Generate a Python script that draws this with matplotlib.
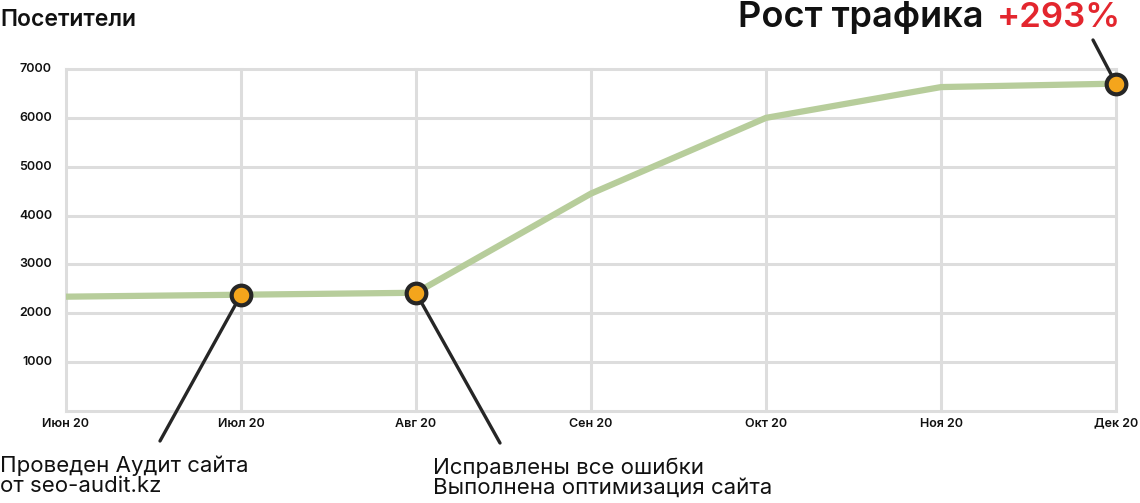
import numpy as np
import matplotlib.pyplot as plt

months = ["Июн 20", "Июл 20", "Авг 20", "Сен 20", "Окт 20", "Ноя 20", "Дек 20"]
visitors = [2340, 2380, 2420, 4450, 6000, 6630, 6700]
marked = [1, 2, 6]
yticks = [1000, 2000, 3000, 4000, 5000, 6000, 7000]

plt.rcParams['font.family'] = ['Inter', 'DejaVu Sans']

W, H = 1140, 503
fig = plt.figure(figsize=(W / 100, H / 100), dpi=100)
ax = fig.add_axes([66 / W, 92 / H, 1050 / W, 342 / H])

x = np.arange(len(months))
ax.set_xlim(0, len(months) - 1)
ax.set_ylim(0, 7000)

# grid
for v in [0] + yticks:
    ax.axhline(v, color="#dddddd", lw=2.2, zorder=1, clip_on=False)
for xi in x:
    ax.axvline(xi, color="#dddddd", lw=2.2, zorder=1, clip_on=False)

ax.plot(x, visitors, color="#b7cd9b", lw=4.5, zorder=2, solid_capstyle="butt", clip_on=False)

# leader lines from the marked points to the captions
leaders = [(1, (160, 441)), (2, (500, 443)), (6, (1093, 40))]
for i, (px, py) in leaders:
    ax.annotate("", xy=(x[i], visitors[i]), xytext=(px / W, 1 - py / H),
                textcoords="figure fraction",
                arrowprops=dict(arrowstyle="-", color="#262626", lw=2.4, shrinkA=0, shrinkB=0),
                zorder=3, annotation_clip=False)

ax.scatter(x[marked], [visitors[i] for i in marked], s=200, color="#f4a51c",
           edgecolors="#262626", linewidths=3, zorder=4, clip_on=False)

for s in ax.spines.values():
    s.set_visible(False)
ax.set_xticks([])
ax.set_yticks([])

for v in yticks:
    ax.text(-0.08, v, str(v), ha="right", va="center", fontsize=9, fontweight="semibold",
            color="#111111")
for xi, m in zip(x, months):
    ax.text(xi, -260, m, ha="center", va="center", fontsize=9, fontweight="semibold",
            color="#111111")

fig.text(0.0, 1 - 20 / H, "Посетители", ha="left", va="center", fontsize=16.5,
         fontweight="semibold", color="#111111")
fig.text(984 / W, 1 - 27 / H, "Рост трафика", ha="right", va="baseline", fontsize=26,
         fontweight="semibold", color="#111111")
fig.text(1121 / W, 1 - 27 / H, "+293%", ha="right", va="baseline", fontsize=25,
         fontweight="semibold", color="#e3262e")

captions = [
    (0, 472, "Проведен Аудит сайта"),
    (0, 492, "от seo-audit.kz"),
    (433, 474, "Исправлены все ошибки"),
    (433, 494, "Выполнена оптимизация сайта"),
]
for px, py, t in captions:
    fig.text(px / W, 1 - py / H, t, ha="left", va="baseline", fontsize=16, color="#111111")

fig.savefig("out.png", dpi=100, facecolor="white")
